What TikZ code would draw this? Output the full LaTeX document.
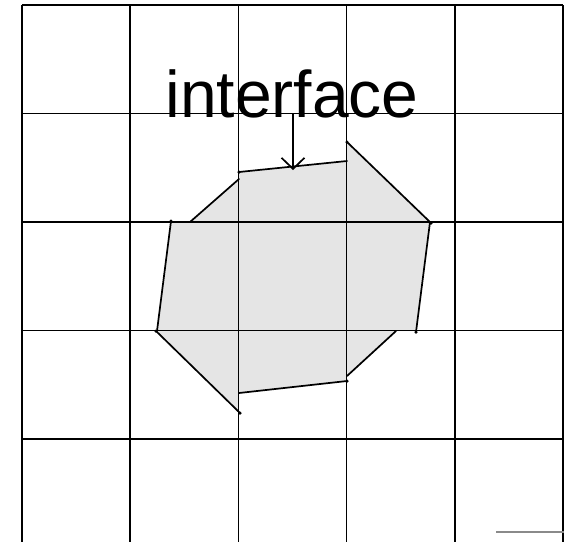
\documentclass[tikz,border=0pt]{standalone}
\usepackage{fontspec}
\setmainfont{Liberation Sans}
\usetikzlibrary{positioning, arrows.meta, calc}
\definecolor{cellfill}{HTML}{E5E5E5}
\definecolor{strayline}{HTML}{8A8A8A}

\begin{document}
\begin{tikzpicture}[x=1pt, y=-1pt,
        gridline/.style={draw=black, line width=1.7pt},
        iface/.style={draw=black, line width=1.7pt, line cap=round},
        enddot/.style={circle, fill=black, inner sep=0pt, minimum size=3.5pt},
        ifarrow/.style={-{Straight Barb[length=11pt, width=23pt]}, line width=1.7pt},
        lbl/.style={font=\fontsize{66}{79}\selectfont, inner sep=0pt, anchor=base}]
      \useasboundingbox (0,0) rectangle (564,542);
      % filled cells
      \fill[cellfill] (171,222) -- (190,222) -- (239,179) -- (239,172) -- (347,161)
        -- (347,142) -- (431,222) -- (430,222) -- (416,331) -- (396,331) -- (347,376)
        -- (347,381) -- (239,393) -- (239,413) -- (157,331) -- cycle;
      % grid
      \foreach \i in {0,...,5}
        \draw[gridline] ({22+108.2*\i},5) -- ({22+108.2*\i},542);
      \foreach \j in {0,...,4}
        \draw[gridline] (22,{5+108.5*\j}) -- (563,{5+108.5*\j});
      % interface segments
      \coordinate (p1) at (171,221); \coordinate (p2) at (157,331);
      \coordinate (p3) at (190,222); \coordinate (p4) at (239,179);
      \coordinate (p5) at (239,172); \coordinate (p6) at (347,161);
      \coordinate (p7) at (347,142); \coordinate (p8) at (431,223);
      \coordinate (p9) at (430,222); \coordinate (p10) at (416,332);
      \coordinate (p11) at (396,331); \coordinate (p12) at (347,376);
      \coordinate (p13) at (347,381); \coordinate (p14) at (239,393);
      \coordinate (p15) at (156,331); \coordinate (p16) at (240,413);
      \draw[iface] (p1) -- (p2);
      \draw[iface] (p3) -- (p4);
      \draw[iface] (p5) -- (p6);
      \draw[iface] (p7) -- (p8);
      \draw[iface] (p9) -- (p10);
      \draw[iface] (p11) -- (p12);
      \draw[iface] (p13) -- (p14);
      \draw[iface] (p15) -- (p16);
      \foreach \p in {p1,p5,p7,p8,p10,p13,p15,p16}
        \node[enddot] at (\p) {};
      % label
      \node[lbl] (label) at (292,117) {interface};
      \coordinate (tip) at (293,170);
      \draw[ifarrow] ([xshift=1pt, yshift=4pt]label.base) -- (tip);
      \draw[strayline, line width=2.2pt] (496,532) -- (564,532);
    \end{tikzpicture}
\end{document}
